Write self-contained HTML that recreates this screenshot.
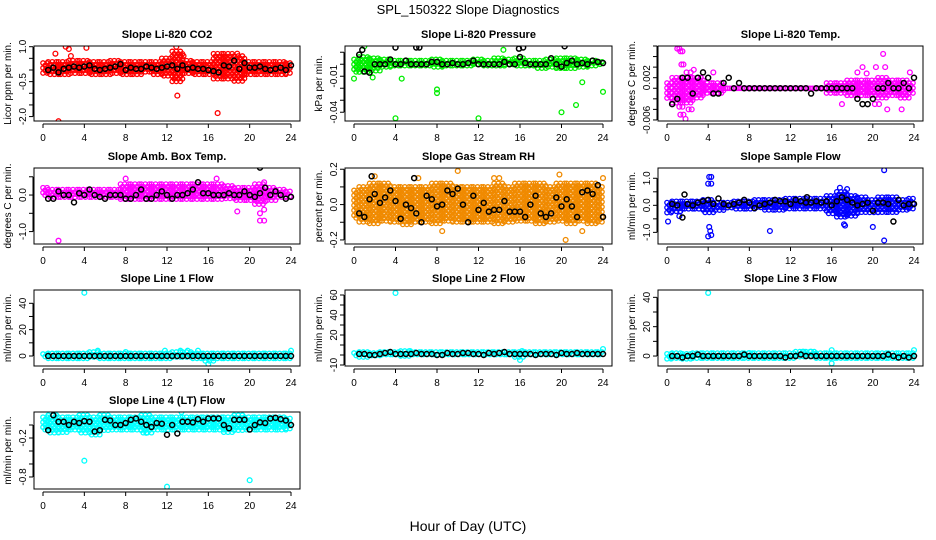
<!DOCTYPE html>
<html><head><meta charset="utf-8"><title>SPL_150322 Slope Diagnostics</title>
<style>
html,body{margin:0;padding:0;background:#fff;}
svg{display:block;font-family:"Liberation Sans",sans-serif;}
</style></head>
<body>
<svg id="chart" width="936" height="540" viewBox="0 0 936 540" xmlns="http://www.w3.org/2000/svg">
<text x="468" y="14" text-anchor="middle" font-size="13">SPL_150322  Slope Diagnostics</text>
<text x="468" y="531" text-anchor="middle" font-size="14">Hour of Day (UTC)</text>
</svg>
<script>
const xTicks = [0,4,8,12,16,20,24];

// Panel 1: CO2
const co2Lo = [-0.15,-0.2,-0.25,-0.2,-0.2,-0.25,-0.2,-0.15,-0.2,-0.2,-0.15,-0.2,-0.3,-0.5,-0.2,-0.2,-0.2,-0.4,-0.4,-0.5,-0.2,-0.2,-0.2,-0.2,-0.2];
const co2Hi = [0.3,0.35,0.35,0.4,0.4,0.35,0.35,0.4,0.35,0.35,0.35,0.35,0.5,0.8,0.4,0.35,0.35,0.7,0.7,0.6,0.35,0.35,0.35,0.35,0.3];
const co2Black = [0.0,0.1,-0.1,0.05,0.1,0.15,0.1,0.15,0.2,0.05,0.0,0.05,0.1,0.15,0.25,0.0,0.1,0.05,0.05,0.15,0.1,0.05,0.1,0.15,0.2,0.05,0.2,0.05,0.1,0.05,0.05,0.0,-0.05,-0.1,0.2,0.15,0.4,0.05,0.3,0.1,0.1,0.15,0.05,0.0,0.05,0.1,0.0,0.2];
const co2Out = [[1.2,0.7],[2.2,1.0],[2.5,0.9],[2.7,0.6],[4.2,0.95],[1.5,-2.2],[12.9,1.0],[12.8,-0.3],[13.0,-1.1],[13.3,0.6],[13.6,0.6],[16.9,-1.85],[18.8,0.7],[19.5,-0.2]];
const co2BlackOut = [];

// Panel 2: Pressure
const presLo = [-0.008,-0.007,-0.006,-0.004,-0.003,-0.003,-0.002,-0.003,-0.003,-0.002,-0.002,-0.002,-0.002,-0.002,-0.003,-0.002,-0.003,-0.003,-0.004,-0.003,-0.004,-0.004,-0.003,-0.003,-0.002];
const presHi = [0.004,0.006,0.005,0.004,0.003,0.003,0.003,0.003,0.004,0.003,0.003,0.003,0.004,0.003,0.005,0.004,0.005,0.003,0.003,0.004,0.005,0.005,0.004,0.003,0.002];
const presBlack = [0.008,-0.006,-0.007,0.0,0.0,0.0,0.004,0.0,0.0,0.003,0.0,0.0,0.0,0.0,0.002,0.002,0.0,0.0,0.001,0.0,0.0,0.001,0.003,0.0,0.0,0.0,0.0,0.0,0.002,0.0,0.0,0.006,0.001,0.0,0.0,0.0,0.0,0.005,0.0,-0.002,0.001,0.003,0.0,0.001,0.0,0.003,0.002,0.001];
const presOut = [[0,-0.012],[4,-0.045],[8,-0.024],[8,-0.021],[12,-0.045],[20,-0.04],[21.4,-0.034],[22,-0.015],[24,-0.023],[1,0.015],[14.4,0.012],[4.6,-0.012],[1.8,-0.011]];
const presBlackOut = [[0.8,0.012],[4,0.014],[6,0.014],[6.3,0.014],[15.9,0.013],[16.3,0.014],[20.3,0.015]];

// Panel 3: Li-820 Temp
const tempLo = [-0.002,-0.003,-0.003,-0.002,-0.001,-0.001,0,0,0,0,0,0,0,0,0,0,-0.001,-0.001,-0.0015,-0.0015,-0.0015,-0.002,-0.0015,-0.002,-0.001];
const tempHi = [0.001,0.002,0.002,0.002,0.001,0.001,0,0,0,0,0,0,0,0,0,0,0.001,0.001,0.0015,0.0015,0.0015,0.002,0.0015,0.0015,0.001];
const tempBlack = [-0.003,-0.002,0.002,0.002,-0.001,0.002,0.003,0.002,-0.001,-0.001,0.001,0.002,0.0,0.001,0.0,0.0,0.0,0.0,0.0,0.0,0.0,0.0,0.0,0.0,0.0,0.0,0.0,-0.001,0.0,0.0,0.0,0.0,0.0,0.0,0.0,0.0,-0.002,-0.003,-0.003,-0.002,0.0,0.0,0.001,0.0,0.0,0.001,0.0,0.002];
const tempOut = [[1,0.0075],[1.3,0.007],[1.2,0.0075],[1.5,0.007],[1.4,0.0045],[1.6,0.0045],[1.8,-0.0058],[1.3,-0.005],[1.6,-0.005],[2.1,-0.004],[2.4,-0.004],[1.9,0.003],[2.3,0.003],[2.6,0.0035],[1.2,-0.0035],[1.5,-0.0035],[21,0.0065],[4.5,0.003],[22.8,-0.004],[17,-0.003],[20.6,-0.003],[19,0.004],[18.5,0.003],[19.4,0.0028],[20.2,-0.003],[21.2,0.004],[23.6,0.003],[20.3,0.004],[21.4,-0.004]];
const tempBlackOut = [];

// Panel 4: Amb. Box Temp
const ambLo = [-0.05,-0.1,-0.1,-0.1,-0.1,-0.1,-0.1,-0.1,-0.15,-0.15,-0.15,-0.15,-0.15,-0.15,-0.15,-0.15,-0.15,-0.15,-0.15,-0.15,-0.2,-0.3,-0.15,-0.1,-0.05];
const ambHi = [0.2,0.15,0.15,0.15,0.15,0.15,0.15,0.15,0.3,0.3,0.3,0.3,0.3,0.3,0.3,0.3,0.3,0.3,0.25,0.2,0.2,0.3,0.2,0.15,0.1];
const ambBlack = [-0.1,-0.1,0.1,0.0,0.0,-0.2,0.05,0.0,0.15,0.0,-0.05,-0.1,0.0,0.0,0.0,-0.1,-0.1,0.0,0.15,-0.1,-0.1,0.0,0.1,0.0,-0.1,0.0,0.0,0.05,0.15,0.35,0.05,0.05,0.0,0.0,0.0,0.05,0.0,0.0,0.1,0.0,-0.05,0.05,0.2,0.0,0.1,0.0,-0.1,-0.05];
const ambOut = [[1.5,-1.25],[8,0.45],[16.8,0.45],[18.8,-0.45],[21,-0.5],[21,-0.7],[21.4,-0.7],[21.4,-0.4],[21.4,0.35]];
const ambBlackOut = [[21,0.75]];

// Panel 5: Gas Stream RH
const rhLo = [-0.08,-0.1,-0.12,-0.1,-0.1,-0.12,-0.1,-0.1,-0.12,-0.1,-0.1,-0.1,-0.1,-0.1,-0.12,-0.1,-0.1,-0.1,-0.12,-0.1,-0.1,-0.12,-0.1,-0.12,-0.1];
const rhHi = [0.08,0.1,0.12,0.12,0.1,0.1,0.1,0.1,0.12,0.12,0.1,0.1,0.1,0.1,0.12,0.1,0.12,0.12,0.12,0.1,0.12,0.12,0.12,0.12,0.1];
const rhBlack = [-0.05,-0.07,0.03,0.06,0.01,0.04,0.08,0.02,-0.08,0.0,-0.02,-0.05,-0.1,0.05,0.03,-0.01,0.0,0.08,0.06,0.09,0.0,-0.1,0.05,-0.03,0.01,-0.04,-0.03,-0.03,0.02,-0.04,-0.04,-0.04,-0.07,0.0,0.05,-0.05,-0.07,-0.05,0.04,-0.01,0.03,-0.01,-0.07,0.07,0.08,0.06,0.11,-0.07];
const rhOut = [[2,0.16],[6.2,0.15],[10,0.19],[13.5,0.15],[14,0.15],[19.8,0.17],[20.4,-0.2],[8.5,-0.15],[24,0.15],[22,-0.15]];
const rhBlackOut = [[1.7,0.16],[5.8,0.15]];

// Panel 6: Sample Flow
const flowLo = [-0.3,-0.25,-0.2,-0.2,-0.3,-0.2,-0.15,-0.15,-0.2,-0.15,-0.2,-0.2,-0.15,-0.15,-0.2,-0.2,-0.3,-0.5,-0.4,-0.3,-0.3,-0.3,-0.3,-0.2,-0.2];
const flowHi = [0.1,0.15,0.15,0.15,0.2,0.1,0.1,0.15,0.15,0.2,0.2,0.2,0.25,0.25,0.25,0.25,0.35,0.5,0.35,0.3,0.2,0.3,0.3,0.2,0.25];
const flowBlack = [0.05,0.0,-0.45,0.05,0.0,0.1,0.15,0.2,0.05,0.25,0.05,0.0,0.05,0.1,0.2,0.1,-0.1,0.0,0.05,0.1,0.2,0.15,0.15,0.05,0.2,0.15,0.1,0.1,0.15,0.1,0.15,0.0,0.15,0.3,0.2,0.1,0.0,0.05,0.1,-0.2,0.1,0.1,0.05,-0.6,0.2,0.0,0.05,0.05];
const flowOut = [[4.1,1.05],[4.3,1.05],[4.0,0.8],[4.3,0.8],[4.0,-1.15],[4.1,-0.8],[4.2,-0.95],[4.3,-1.1],[0.1,-0.6],[10,-0.95],[20,-0.8],[21.1,1.3],[21.1,-1.3],[16.8,0.65],[17.5,0.6],[17.2,-0.7],[17.3,-0.75],[1.2,-0.4]];
const flowBlackOut = [[1.7,0.4],[13.6,0.3]];

// Panel 7: Line 1 Flow
const l1Lo = [-2,-2,-2,-2,-2,-2,-2,-2,-2,-2,-2,-2,-2,-2,-2,-2,-4,-2,-2,-2,-2,-2,-2,-2,-2];
const l1Hi = [1.5,2,2,2,2,3,2,2,2,2,2,2,2,3,3,2,2,2,2,2,2,2,2,2,2];
const l1Black = [0,0,0,0,0,0,0,0,0,0,0,0,0,0,0,0,0,0,0,0,0,0,0,0,0,0,0,0,0,0,0,0,0,0,0,0,0,0,0,0,0,0,0,0,0,0,0,0];
const l1Out = [[4,48],[5.3,4],[11.8,4],[13.3,4],[14,4],[15,4],[16,-6],[24,4],[8,3]];
const l1BlackOut = [];

// Panel 8: Line 2 Flow
const l2Lo = [-1,-2,-2,-1,-1,-2,-1,-1,-1,-1,-1,-1,-1,-1,-1,-1,-3,-1,-1,-1,-1,-1,-1,-1,-1];
const l2Hi = [2,3,2,3,3,4,3,3,3,3,3,3,3,3,3,3,3,3,3,3,3,3,3,3,3];
const l2Black = [1,1,0,0,1,2,3,1,1,1,1,2,1,1,1,0,0,2,1,1,2,2,1,1,0,2,1,2,3,1,1,1,1,1,0,1,1,1,0,2,1,1,2,1,1,1,1,1];
const l2Out = [[4,62],[16,-5],[16.2,4],[24,6],[5.4,4]];
const l2BlackOut = [];

// Panel 9: Line 3 Flow
const l3Lo = [-2,-2,-2,-2,-2,-2,-2,-2,-2,-2,-2,-2,-3,-2,-2,-2,-3,-2,-2,-2,-2,-2,-2,-2,-2];
const l3Hi = [1.5,2,1.5,2,2,2,2,2,2,2,2,2,2,3,3,2,2,2,2,2,2,2,2,2,2];
const l3Black = [0,0,-1,0,0,1,0,0,0,0,0,0,0,0,1,0,0,0,0,0,0,0,-1,0,0,1,0,0,0,0,0,0,0,0,0,0,0,0,0,0,0,0,1,0,-1,0,-1,0];
const l3Out = [[4,43],[16,-5],[16,4],[24,4],[13.2,3],[14,3],[8,2]];
const l3BlackOut = [];

// Panel 10: Line 4 (LT) Flow
const l4Lo = [-0.1,-0.12,-0.12,-0.1,-0.12,-0.15,-0.1,-0.1,-0.1,-0.1,-0.12,-0.1,-0.1,-0.1,-0.1,-0.1,-0.1,-0.1,-0.12,-0.1,-0.1,-0.1,-0.1,-0.1,-0.08];
const l4Hi = [0.12,0.15,0.12,0.12,0.15,0.12,0.15,0.12,0.12,0.12,0.15,0.12,0.12,0.12,0.12,0.12,0.12,0.12,0.12,0.15,0.12,0.12,0.12,0.12,0.1];
const l4Black = [-0.08,0.15,0.05,0.05,0.0,0.05,0.03,0.06,0.05,-0.1,-0.08,0.08,0.07,0.0,0.0,0.03,0.08,0.1,0.05,0.0,-0.03,0.03,0.02,-0.15,0.0,-0.13,0.05,0.05,0.04,0.09,0.05,0.1,0.1,0.1,0.0,-0.05,0.08,0.08,0.08,-0.07,0.0,0.04,0.03,0.1,0.11,0.09,0.07,0.0];
const l4Out = [[4,-0.55],[12,-0.95],[20,-0.85],[10,-0.12],[13.4,0.2]];
const l4BlackOut = [];

const NS = "http://www.w3.org/2000/svg";
const svg = document.getElementById('chart');
function mk(tag, attrs, parent){
  const e = document.createElementNS(NS, tag);
  for (const k in attrs) e.setAttribute(k, attrs[k]);
  (parent||svg).appendChild(e);
  return e;
}
const cols = [[34,300],[345,612],[658,923]];
const rows = [[46,121],[168,244],[290,366],[412,489]];

const panels = [
 {name:'co2', title:'Slope Li-820 CO2', ylab:'Licor ppm per min.', col:0,row:0, ytop:1.03, ybot:-2.19, ticks:[1.0,0.5,0,-0.5,-1,-1.5,-2], labels:['1.0','','','-0.5','','','-2.0'], color:'#ff0000', lo:co2Lo, hi:co2Hi, black:co2Black, out:co2Out, bout:co2BlackOut},
 {name:'pressure', title:'Slope Li-820 Pressure', ylab:'kPa per min.', col:1,row:0, ytop:0.0152, ybot:-0.0473, ticks:[0.01,0,-0.01,-0.02,-0.03,-0.04], labels:['','','-0.01','','','-0.04'], color:'#00ee00', lo:presLo, hi:presHi, black:presBlack, out:presOut, bout:presBlackOut},
 {name:'temp', title:'Slope Li-820 Temp.', ylab:'degrees C per min.', col:2,row:0, ytop:0.0080, ybot:-0.0062, ticks:[0.008,0.006,0.004,0.002,0,-0.002,-0.004,-0.006], labels:['','','','0.002','','','','-0.006'], color:'#ff00ff', lo:tempLo, hi:tempHi, black:tempBlack, out:tempOut, bout:tempBlackOut},
 {name:'amb-box-temp', title:'Slope Amb. Box Temp.', ylab:'degrees C per min.', col:0,row:1, ytop:0.74, ybot:-1.34, ticks:[0.5,0,-0.5,-1.0], labels:['','0.0','','-1.0'], color:'#ff00ff', lo:ambLo, hi:ambHi, black:ambBlack, out:ambOut, bout:ambBlackOut},
 {name:'gas-rh', title:'Slope Gas Stream RH', ylab:'percent per min.', col:1,row:1, ytop:0.207, ybot:-0.223, ticks:[0.2,0.1,0,-0.1,-0.2], labels:['0.2','','0.0','','-0.2'], color:'#f08a00', lo:rhLo, hi:rhHi, black:rhBlack, out:rhOut, bout:rhBlackOut},
 {name:'sample-flow', title:'Slope Sample Flow', ylab:'ml/min per min.', col:2,row:1, ytop:1.38, ybot:-1.43, ticks:[1.0,0.5,0,-0.5,-1.0], labels:['1.0','','0.0','','-1.0'], color:'#0000ff', lo:flowLo, hi:flowHi, black:flowBlack, out:flowOut, bout:flowBlackOut},
 {name:'line1-flow', title:'Slope Line 1 Flow', ylab:'ml/min per min.', col:0,row:2, ytop:50.1, ybot:-7.6, ticks:[40,30,20,10,0], labels:['40','','20','','0'], color:'#00ffff', lo:l1Lo, hi:l1Hi, black:l1Black, out:l1Out, bout:l1BlackOut},
 {name:'line2-flow', title:'Slope Line 2 Flow', ylab:'ml/min per min.', col:1,row:2, ytop:65, ybot:-11, ticks:[60,50,40,30,20,10,0,-10], labels:['60','','40','','20','','','-10'], color:'#00ffff', lo:l2Lo, hi:l2Hi, black:l2Black, out:l2Out, bout:l2BlackOut},
 {name:'line3-flow', title:'Slope Line 3 Flow', ylab:'ml/min per min.', col:2,row:2, ytop:45, ybot:-6.8, ticks:[40,30,20,10,0], labels:['40','','20','','0'], color:'#00ffff', lo:l3Lo, hi:l3Hi, black:l3Black, out:l3Out, bout:l3BlackOut},
 {name:'line4-flow', title:'Slope Line 4 (LT) Flow', ylab:'ml/min per min.', col:0,row:3, ytop:0.2, ybot:-0.985, ticks:[0,-0.2,-0.4,-0.6,-0.8], labels:['','-0.2','','','-0.8'], color:'#00ffff', lo:l4Lo, hi:l4Hi, black:l4Black, out:l4Out, bout:l4BlackOut}
];

panels.forEach(p => {
  const [L,R] = cols[p.col], [T,B] = rows[p.row];
  const x0 = L+9, x1 = R-9;
  const sx = h => x0 + (x1-x0)*h/24;
  const sy = v => T + (B-T)*(p.ytop - v)/(p.ytop - p.ybot);
  const g = mk('g', {});
  
  
  const clip = mk('clipPath', {id:'clip-'+p.name}, g);
  mk('rect', {x:L, y:T, width:R-L, height:B-T}, clip);
  const t = mk('text', {x:(L+R)/2, y:T-8, 'text-anchor':'middle', 'font-size':'11', 'font-weight':'bold'}, g);
  t.textContent = p.title;
  
  
  const yl = mk('text', {transform:`translate(${L-23},${(T+B)/2}) rotate(-90)`, 'text-anchor':'middle', 'font-size':'10'}, g);
  yl.textContent = p.ylab;
  
  
  // colored series
  const cg = mk('g', {'clip-path':`url(#clip-${p.name})`, fill:'none', stroke:p.color, 'stroke-width':'1.3'}, g);
  
  
  for (let h=0; h<p.lo.length; h++){
    const a = Math.max(0,h-0.5), b = Math.min(24,h+0.5);
    const ya = sy(p.hi[h]), yb = sy(p.lo[h]);
    let k = 0;
    for (let x=a; x<=b+1e-6; x+=0.2){
      const off = (k++ % 2) ? 2.5 : 0;
      for (let y=ya+off; y<=yb+0.01; y+=5){
        mk('circle', {cx:sx(x).toFixed(1), cy:y.toFixed(1), r:2.2}, cg);
      }
      if (yb - ya < 2.5 && off) mk('circle', {cx:sx(x).toFixed(1), cy:ya.toFixed(1), r:2.2}, cg);
    }
  }
  p.out.forEach(o => {
    const c = mk('circle', {cx:sx(o[0]), cy:sy(o[1]), r:2.4}, cg);
    
    
  });
  // black series
  const bg = mk('g', {'clip-path':`url(#clip-${p.name})`, fill:'none', stroke:'#000', 'stroke-width':'1.5'}, g);
  
  
  p.black.forEach((v,i) => {
    const c = mk('circle', {cx:sx(0.5*(i+1)), cy:sy(v), r:2.5}, bg);
    
    
  });
  p.bout.forEach(o => mk('circle', {cx:sx(o[0]), cy:sy(o[1]), r:2.5}, bg));
  // box
  const box = mk('rect', {x:L, y:T, width:R-L, height:B-T, fill:'none', stroke:'#000', 'stroke-width':'1'}, g);
  
  
  // x axis
  const xa = mk('g', {stroke:'#000', 'stroke-width':'1'}, g);
  
  
  mk('line', {x1:sx(0), x2:sx(24), y1:B+3, y2:B+3}, xa);
  xTicks.forEach(v => {
    mk('line', {x1:sx(v), x2:sx(v), y1:B+3, y2:B+7}, xa);
    const tl = mk('text', {x:sx(v), y:B+20, 'text-anchor':'middle', 'font-size':'10', stroke:'none', fill:'#000'}, xa);
    tl.textContent = v;
  });
  // y axis
  const ya = mk('g', {stroke:'#000', 'stroke-width':'1'}, g);
  
  
  const tv = p.ticks.map(sy);
  mk('line', {x1:L-1, x2:L-1, y1:Math.min(...tv), y2:Math.max(...tv)}, ya);
  p.ticks.forEach((v,i) => {
    const y = sy(v);
    mk('line', {x1:L-1, x2:L-5, y1:y, y2:y}, ya);
    if (p.labels[i]) {
      const tl = mk('text', {transform:`translate(${L-8},${y}) rotate(-90)`, 'text-anchor':'middle', 'font-size':'10', stroke:'none', fill:'#000'}, ya);
      tl.textContent = p.labels[i];
    }
  });
});
</script>
</body></html>
